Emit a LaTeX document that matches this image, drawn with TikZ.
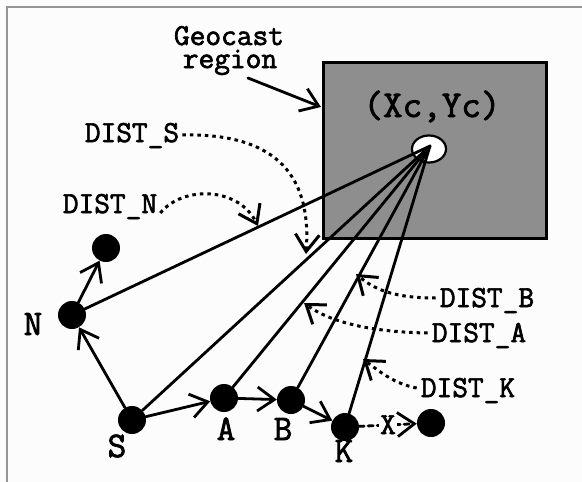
\documentclass[tikz,border=0pt]{standalone}
\usepackage{fontspec}
\usetikzlibrary{arrows.meta,shapes.geometric}
\newfontfamily\courb{Latin Modern Mono}[FakeBold=2.2]
\definecolor{bgc}{HTML}{FCFCFC}
\definecolor{framec}{HTML}{959595}
\definecolor{boxc}{HTML}{8E8E8E}
\begin{document}
\begin{tikzpicture}[x=1pt,y=-1pt,
  every node/.style={inner sep=0pt},
  dotnode/.style={circle,fill=black,minimum size=28pt},
  ln/.style={line width=2.8pt,line cap=round},
  barb/.style={-{Straight Barb[length=17pt,width=24pt]}},
  leader/.style={line width=3pt,dash pattern=on 3.5pt off 4pt,-{Straight Barb[length=17pt,width=24pt]}},
  lab/.style={font=\courb\fontsize{30.5}{30.5}\selectfont,anchor=base},
  nlab/.style={font=\courb\fontsize{36}{36}\selectfont,anchor=base},
]
\useasboundingbox (0,0) rectangle (582,482);
\fill[bgc] (0,0) rectangle (582,482);
\draw[framec,line width=1.6pt] (7,482) -- (7,7) -- (582,7);

% geocast region box
\node[draw,line width=3pt,fill=boxc,minimum width=223pt,minimum height=176pt] (box) at (434.5,150) {};
\node[font=\courb\fontsize{38}{38}\selectfont,anchor=base] (xy) at (432,117) {(Xc,Yc)};
\node[ellipse,draw,fill=white,line width=2.2pt,minimum width=34pt,minimum height=27pt] (ell) at (429,149) {};
\coordinate (c) at (430,146);

% Geocast label
\node[lab,text depth=0pt] (geo1) at (229,45) {Geocast};
\node[lab,text height=16pt] (geo2) at (230,68) {region};
\coordinate (g1) at (248,78);
\coordinate (g2) at (321,107);
\draw[ln,barb] (g1) -- (g2);

% nodes
\node[dotnode] (T) at (106,248) {};
\node[dotnode] (N) at (72,315) {};
\node[dotnode] (S) at (132,420) {};
\node[dotnode] (A) at (224,398) {};
\node[dotnode] (B) at (291,400) {};
\node[dotnode] (K) at (345,427) {};
\node[dotnode] (Xn) at (431,423) {};

% node labels
\node[nlab] (lN) at (33,335) {N};
\node[nlab] (lS) at (117,457) {S};
\node[nlab] (lA) at (226,440) {A};
\node[nlab] (lB) at (283,440) {B};
\node[nlab] (lK) at (344,462) {K};

% distance lines from centre
\draw[ln] (c) -- (N);
\draw[ln] (c) -- (S);
\draw[ln] (c) -- (A);
\draw[ln] (c) -- (B);
\draw[ln] (c) -- (K);

% forwarding path
\draw[ln,barb] (N) -- (T);
\draw[ln,barb] (S) -- (N);
\draw[ln,barb] (S) -- (A);
\draw[ln,barb] (A) -- (B);
\draw[ln,barb] (B) -- (K);
\draw[ln,barb,dash pattern=on 5pt off 4pt] (K) -- node[lab,fill=bgc,inner sep=1pt,yshift=-9pt] (lX) {X} (Xn);

% distance labels
\node[lab] (dS) at (132,142) {DIST\_S};
\node[lab] (dN) at (110,213) {DIST\_N};
\node[lab] (dB) at (487,307) {DIST\_B};
\node[lab] (dA) at (479,342) {DIST\_A};
\node[lab] (dK) at (468,397) {DIST\_K};

\coordinate (tS) at (306,254);
\coordinate (tN) at (258,226);
\coordinate (tB) at (356,274);
\coordinate (tA) at (304,303);
\coordinate (tK) at (363,359);

\draw[leader] ([xshift=3pt]dS.base east |- 0,135) .. controls (270,133) and (312,170) .. (tS);
\draw[leader] ([xshift=3pt]dN.base east) .. controls (182,186) and (238,186) .. (tN);
\draw[leader] ([xshift=-4pt]dB.base west |- 0,298) .. controls (395,298) and (375,290) .. (tB);
\draw[leader] ([xshift=-4pt]dA.base west |- 0,333) .. controls (370,332) and (330,322) .. (tA);
\draw[leader] ([xshift=-4pt]dK.base west |- 0,388) .. controls (395,384) and (380,372) .. (tK);
\end{tikzpicture}
\end{document}
